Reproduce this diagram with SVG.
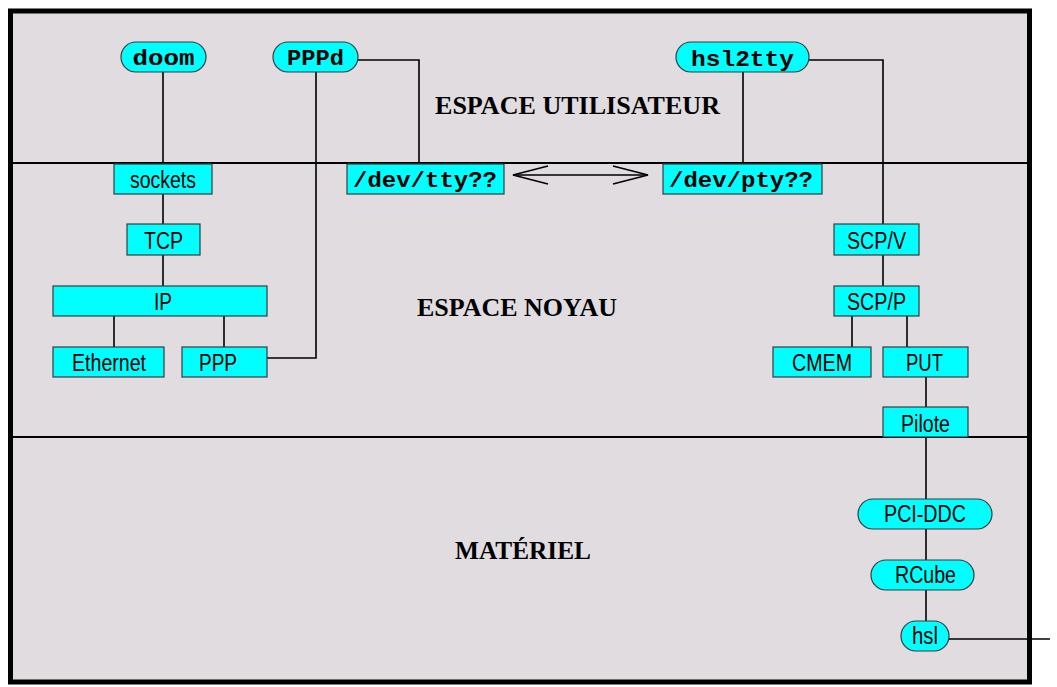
<svg xmlns="http://www.w3.org/2000/svg" width="1057" height="687" viewBox="0 0 1057 687">
<style>
.box{fill:#00ffff;stroke:#3a3a3a;stroke-width:1.2}
.lbl{font-family:"Liberation Sans",Arial,sans-serif;font-size:23.5px;fill:#000;text-anchor:middle}
.mono{font-family:"Liberation Mono","Courier New",monospace;font-weight:bold;font-size:22px;fill:#000;text-anchor:middle}
.zone{font-family:"Liberation Serif","Times New Roman",serif;font-weight:bold;font-size:25px;fill:#000}
.con{fill:none;stroke:#000;stroke-width:1.6}
.div{fill:none;stroke:#000;stroke-width:2}
</style>
<rect x="0" y="0" width="1057" height="687" fill="#ffffff"/>
<rect id="frame" x="10.5" y="11" width="1019" height="671" fill="#e0dce0" stroke="#000" stroke-width="5"/>
<g id="dividers">
<line class="div" x1="13" y1="163" x2="1027" y2="163"/>
<line class="div" x1="13" y1="437" x2="1027" y2="437"/>
</g>
<g id="zones">
<text class="zone" x="435" y="114" textLength="285" lengthAdjust="spacingAndGlyphs">ESPACE UTILISATEUR</text>
<text class="zone" x="417" y="316" textLength="200" lengthAdjust="spacingAndGlyphs">ESPACE NOYAU</text>
<text class="zone" x="455" y="559" textLength="136" lengthAdjust="spacingAndGlyphs">MATÉRIEL</text>
</g>
<g id="connectors">
<polyline class="con" points="163,72 163,163"/>
<polyline class="con" points="163,194 163,224"/>
<polyline class="con" points="163,255 163,286"/>
<polyline class="con" points="114,316 114,347"/>
<polyline class="con" points="224,316 224,347"/>
<polyline class="con" points="316,72 316,358 267,358"/>
<polyline class="con" points="358,60 419,60 419,164"/>
<polyline class="con" points="743,72 743,164"/>
<polyline class="con" points="809,60 883,60 883,224"/>
<polyline class="con" points="883,255 883,286"/>
<polyline class="con" points="852,316 852,347"/>
<polyline class="con" points="907,316 907,347"/>
<polyline class="con" points="926,377 926,407"/>
<polyline class="con" points="926,437 926,499"/>
<polyline class="con" points="926,529 926,560"/>
<polyline class="con" points="926,590 926,621"/>
<polyline class="con" points="949,639 1050,639"/>
<g id="tty-pty-arrow">
<line class="con" x1="513" y1="175" x2="648" y2="175"/>
<polyline class="con" points="548,166 513,175 548,184"/>
<polyline class="con" points="613,166 648,175 613,184"/>
</g>
</g>
<g id="doom"><rect class="box" x="121" y="42" width="85" height="30" rx="15"/><text class="mono" x="163.5" y="65" textLength="62" lengthAdjust="spacingAndGlyphs">doom</text></g>
<g id="pppd"><rect class="box" x="273" y="42" width="85" height="30" rx="15"/><text class="mono" x="315.5" y="65" textLength="57" lengthAdjust="spacingAndGlyphs">PPPd</text></g>
<g id="hsl2tty"><rect class="box" x="676" y="42" width="133" height="30" rx="15"/><text class="mono" x="742.5" y="65.5" textLength="103" lengthAdjust="spacingAndGlyphs">hsl2tty</text></g>
<g id="sockets"><rect class="box" x="114" y="164" width="98" height="30"/><text class="lbl" x="163" y="188" textLength="66" lengthAdjust="spacingAndGlyphs">sockets</text></g>
<g id="devtty"><rect class="box" x="347" y="164" width="157" height="30"/><text class="mono" x="425" y="187" textLength="144" lengthAdjust="spacingAndGlyphs">/dev/tty??</text></g>
<g id="devpty"><rect class="box" x="663" y="164" width="159" height="30"/><text class="mono" x="741" y="187" textLength="144" lengthAdjust="spacingAndGlyphs">/dev/pty??</text></g>
<g id="tcp"><rect class="box" x="127" y="224" width="73" height="31"/><text class="lbl" x="163.5" y="249" textLength="39" lengthAdjust="spacingAndGlyphs">TCP</text></g>
<g id="ip"><rect class="box" x="53" y="286" width="214" height="30"/><text class="lbl" x="163" y="310" textLength="18" lengthAdjust="spacingAndGlyphs">IP</text></g>
<g id="ethernet"><rect class="box" x="53" y="347" width="111" height="30"/><text class="lbl" x="109" y="371" textLength="74" lengthAdjust="spacingAndGlyphs">Ethernet</text></g>
<g id="ppp"><rect class="box" x="182" y="347" width="85" height="30"/><text class="lbl" x="218" y="371" textLength="38" lengthAdjust="spacingAndGlyphs">PPP</text></g>
<g id="scpv"><rect class="box" x="834" y="224" width="85" height="31"/><text class="lbl" x="876.5" y="249" textLength="59" lengthAdjust="spacingAndGlyphs">SCP/V</text></g>
<g id="scpp"><rect class="box" x="834" y="286" width="85" height="30"/><text class="lbl" x="876.5" y="310" textLength="59" lengthAdjust="spacingAndGlyphs">SCP/P</text></g>
<g id="cmem"><rect class="box" x="773" y="347" width="98" height="30"/><text class="lbl" x="822" y="371" textLength="60" lengthAdjust="spacingAndGlyphs">CMEM</text></g>
<g id="put"><rect class="box" x="883" y="347" width="85" height="30"/><text class="lbl" x="924.5" y="371" textLength="37" lengthAdjust="spacingAndGlyphs">PUT</text></g>
<g id="pilote"><rect class="box" x="883" y="407" width="85" height="30"/><text class="lbl" x="925.5" y="432" textLength="49" lengthAdjust="spacingAndGlyphs">Pilote</text></g>
<g id="pciddc"><rect class="box" x="858" y="499" width="134" height="30" rx="15"/><text class="lbl" x="925" y="522" textLength="82" lengthAdjust="spacingAndGlyphs">PCI-DDC</text></g>
<g id="rcube"><rect class="box" x="871" y="560" width="103" height="30" rx="15"/><text class="lbl" x="925.5" y="583" textLength="61" lengthAdjust="spacingAndGlyphs">RCube</text></g>
<g id="hsl"><rect class="box" x="901" y="621" width="48" height="30" rx="15"/><text class="lbl" x="925" y="644" textLength="26" lengthAdjust="spacingAndGlyphs">hsl</text></g>
</svg>
